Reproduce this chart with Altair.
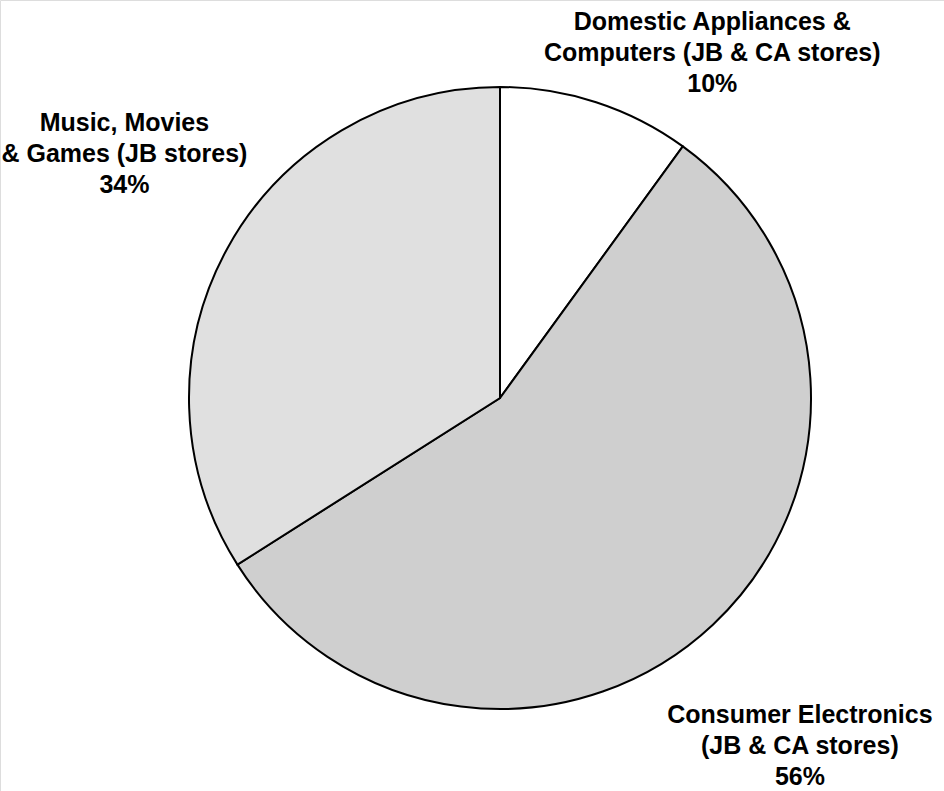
import altair as alt
import pandas as pd

# Data
categories = [
    "Domestic Appliances &\nComputers (JB & CA stores)",
    "Consumer Electronics\n(JB & CA stores)",
    "Music, Movies\n& Games (JB stores)",
]
shares = [10, 56, 34]
order = [1, 2, 3]

df = pd.DataFrame({"category": categories, "share": shares, "order": order})
df["label"] = df["category"] + "\n" + df["share"].astype(str) + "%"

fills = ["#ffffff", "#cfcfcf", "#e0e0e0"]

CX, CY, R = 500, 398, 311

pie = alt.Chart(df).mark_arc(outerRadius=R, stroke="black", strokeWidth=2).encode(
    theta=alt.Theta("share:Q", stack=True),
    order=alt.Order("order:Q"),
    x=alt.value(CX),
    y=alt.value(CY),
    color=alt.Color("category:N", scale=alt.Scale(domain=categories, range=fills), legend=None),
)


def label_layer(idx, radius, dx, dy):
    return alt.Chart(df).transform_stack(
        stack="share", as_=["s0", "s1"], groupby=[], sort=[alt.SortField("order")]
    ).transform_calculate(
        mid="(datum.s0 + datum.s1) / 2"
    ).transform_filter(
        alt.datum.order == order[idx]
    ).mark_text(
        radius=radius, dx=dx, dy=dy, lineBreak="\n", font="Liberation Sans",
        fontWeight="bold", fontSize=25, lineHeight=31, align="center", baseline="middle",
        color="black",
    ).encode(
        theta=alt.Theta("mid:Q", scale=alt.Scale(domain=[0, 100])),
        x=alt.value(CX), y=alt.value(CY), text="label:N",
    )


labels = [
    label_layer(0, 360, 101, -34),
    label_layer(1, 460, -15, -18),
    label_layer(2, 440, 10, -63),
]

chart = alt.layer(pie, *labels).resolve_scale(theta="independent").properties(
    width=944, height=791, padding=0, autosize=alt.AutoSizeParams(type="none")
).configure_view(stroke=None).configure(background="white")

chart.save("out.html", embed_options={"renderer": "svg", "actions": False})
